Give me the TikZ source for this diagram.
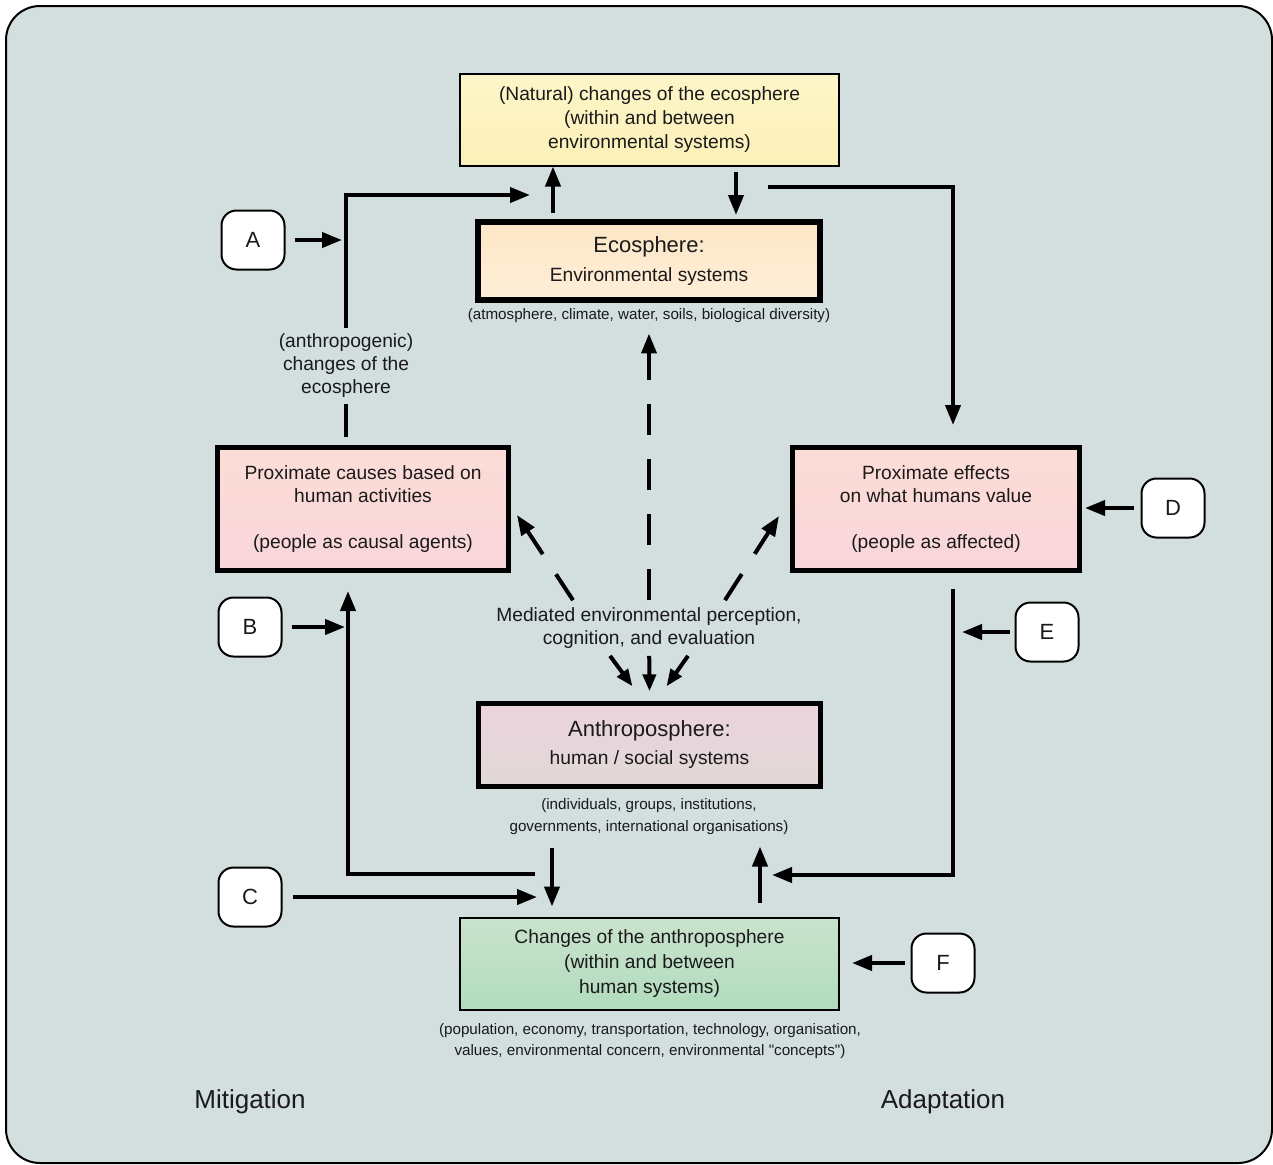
\documentclass[tikz,border=0pt]{standalone}
\usepackage{fontspec}
\setmainfont{Liberation Sans}
\usetikzlibrary{arrows.meta}

\definecolor{bgcol}{HTML}{D3DFDF}
\definecolor{txtcol}{HTML}{1A1A1A}
\definecolor{yellowtop}{HTML}{FEF6C9}
\definecolor{yellowbot}{HTML}{FCF0B8}
\definecolor{peachtop}{HTML}{FDE6C6}
\definecolor{peachbot}{HTML}{FEEED8}
\definecolor{pinktop}{HTML}{FCDDD6}
\definecolor{pinkbot}{HTML}{F9D5DB}
\definecolor{mauvetop}{HTML}{EBD3DC}
\definecolor{mauvebot}{HTML}{E1D8D7}
\definecolor{greentop}{HTML}{CAE2CD}
\definecolor{greenbot}{HTML}{B1DCBE}

\newcommand{\boxfont}{\fontsize{9.6}{11.5}\selectfont}
\newcommand{\headfont}{\fontsize{11}{13}\selectfont}
\newcommand{\capfont}{\fontsize{7.6}{10.8}\selectfont}

\begin{document}
\begin{tikzpicture}[x=0.5pt,y=-0.5pt,
  thinbox/.style={draw=black,line width=1pt,minimum width=189.5pt,minimum height=46pt},
  thickbox/.style={draw=black,line width=2.5pt,minimum height=61.5pt},
  letter/.style={draw=black,fill=white,line width=1pt,rounded corners=7.5pt,minimum width=31.5pt,minimum height=29.5pt,font=\fontsize{11}{13}\selectfont},
  arr/.style={line width=2pt,-{Triangle[length=10pt,width=7.5pt]}},
  shortarr/.style={line width=2pt,-{Triangle[length=8.5pt,width=6.5pt]}},
  ln/.style={line width=2pt},
  dasharr/.style={arr,dash pattern=on 15.5pt off 12pt}]
            \tikzstyle{every node}+=[inner sep=0pt,align=center,text=txtcol,font=\boxfont]
            \useasboundingbox (0,0) rectangle (1273,1164);
            \fill [white] (0,0) rectangle (1273,1164);
            \draw [black,fill=bgcol,line width=1pt,rounded corners=17pt] (6,6) rectangle (1272,1163);
            \node [thinbox,top color=yellowtop,bottom color=yellowbot,font=\fontsize{9.6}{12}\selectfont] (natural) at (649.5,119.5) {(Natural) changes of the ecosphere\\(within and between\\environmental systems)};
            \node [draw=black,line width=3pt,minimum width=171pt,minimum height=39pt,top color=peachtop,bottom color=peachbot] (eco) at (649,261) {{\headfont Ecosphere:}\\[3pt]Environmental systems};
            \node [font=\capfont] (ecocap) at (649,316) {(atmosphere, climate, water, soils, biological diversity)};
            \node [thickbox,minimum width=145.5pt,top color=pinktop,bottom color=pinkbot] (causes) at (363,509) {Proximate causes based on\\human activities\\[11.5pt](people as causal agents)};
            \node [thickbox,minimum width=143.5pt,top color=pinktop,bottom color=pinkbot] (effects) at (936,509) {Proximate effects\\on what humans value\\[11.5pt](people as affected)};
            \node [draw=black,line width=2.2pt,minimum width=171pt,minimum height=41.5pt,top color=mauvetop,bottom color=mauvebot] (anthro) at (649.5,745) {{\headfont Anthroposphere:}\\[2.5pt]human / social systems};
            \node [font=\fontsize{7.6}{11}\selectfont] (anthcap) at (649,817) {(individuals, groups, institutions,\\governments, international organisations)};
            \node [thinbox,top color=greentop,bottom color=greenbot,font=\fontsize{9.6}{12.7}\selectfont] (changes) at (649.5,963.5) {Changes of the anthroposphere\\(within and between\\human systems)};
            \node [font=\capfont] (chcap) at (650,1041) {(population, economy, transportation, technology, organisation,\\values, environmental concern, environmental \textquotedbl concepts\textquotedbl)};
            \node [inner sep=3pt] (anth) at (346,366) {(anthropogenic)\\changes of the\\ecosphere};
            \node [inner sep=3.5pt] (med) at (649,628) {Mediated environmental perception,\\cognition, and evaluation};
            \node [font=\fontsize{13}{15}\selectfont] (mitig) at (250,1102) {Mitigation};
            \node [font=\fontsize{13}{15}\selectfont] (adapt) at (943,1102) {Adaptation};
            \node [letter] (A) at (253,240) {A};
            \node [letter] (B) at (250,627) {B};
            \node [letter] (C) at (250,897) {C};
            \node [letter] (D) at (1173,508) {D};
            \node [letter] (E) at (1047,632) {E};
            \node [letter] (F) at (943,963) {F};
            \coordinate (ecoIn) at (530,195);
            \coordinate (upx) at (553,0);
            \coordinate (dnx) at (736,0);
            \coordinate (rStart) at (768,187);
            \coordinate (rv) at (953,187);
            \coordinate (rIn) at (772,875);
            \coordinate (lStart) at (535,874);
            \coordinate (lv) at (348,874);
            \coordinate (cTip) at (537,897);
            \coordinate (ldx) at (552,0);
            \coordinate (lux) at (760,0);
            \draw [ln,shorten <=4pt] (causes.north -| anth) -- (anth);
            \draw [arr] (anth) |- (ecoIn);
            \draw [arr,shorten <=4.5pt,shorten >=2pt] (A) -- (A -| anth);
            \draw [arr,shorten <=3pt] (eco.north -| upx) -- (natural.south -| upx);
            \draw [arr,shorten <=2.5pt,shorten >=2pt] (natural.south -| dnx) -- (eco.north -| dnx);
            \draw [arr,shorten >=10pt] (rStart) -- (rv) -- (rv |- effects.north);
            \draw [arr,shorten <=3.5pt,shorten >=1.5pt] (D) -- (D -| effects.east);
            \draw [arr,shorten <=8pt] (rv |- effects.south) |- (rIn);
            \draw [arr,shorten <=2.5pt,shorten >=4.5pt] (E) -- (E -| rv);
            \draw [arr,shorten <=3pt,shorten >=6pt] (F) -- (F -| changes.east);
            \draw [arr,shorten >=9pt] (lStart) -- (lv) -- (lv |- causes.south);
            \draw [arr,shorten <=4.5pt,shorten >=1.5pt] (B) -- (B -| lv);
            \draw [arr,shorten <=5pt] (C) -- (cTip);
            \draw [arr,shorten <=6pt,shorten >=5pt] (anthcap.south -| ldx) -- (changes.north -| ldx);
            \draw [arr,shorten <=7pt,shorten >=5.5pt] (changes.north -| lux) -- (anthcap.south -| lux);
            \draw [dasharr,shorten >=5pt] (med) -- (ecocap);
            \draw [dasharr] ([xshift=-38pt]med.north) -- ([xshift=3pt,yshift=-3pt]causes.east);
            \draw [dasharr] ([xshift=38pt]med.north) -- ([xshift=-5.5pt,yshift=-3.5pt]effects.west);
            \draw [shortarr] ([xshift=-19.5pt]med.south) -- ([xshift=-8.5pt,yshift=7.5pt]anthro.north);
            \draw [shortarr] (med) -- ([yshift=5pt]anthro.north);
            \draw [shortarr] ([xshift=19.5pt]med.south) -- ([xshift=8.5pt,yshift=7.5pt]anthro.north);
\end{tikzpicture}
\end{document}
